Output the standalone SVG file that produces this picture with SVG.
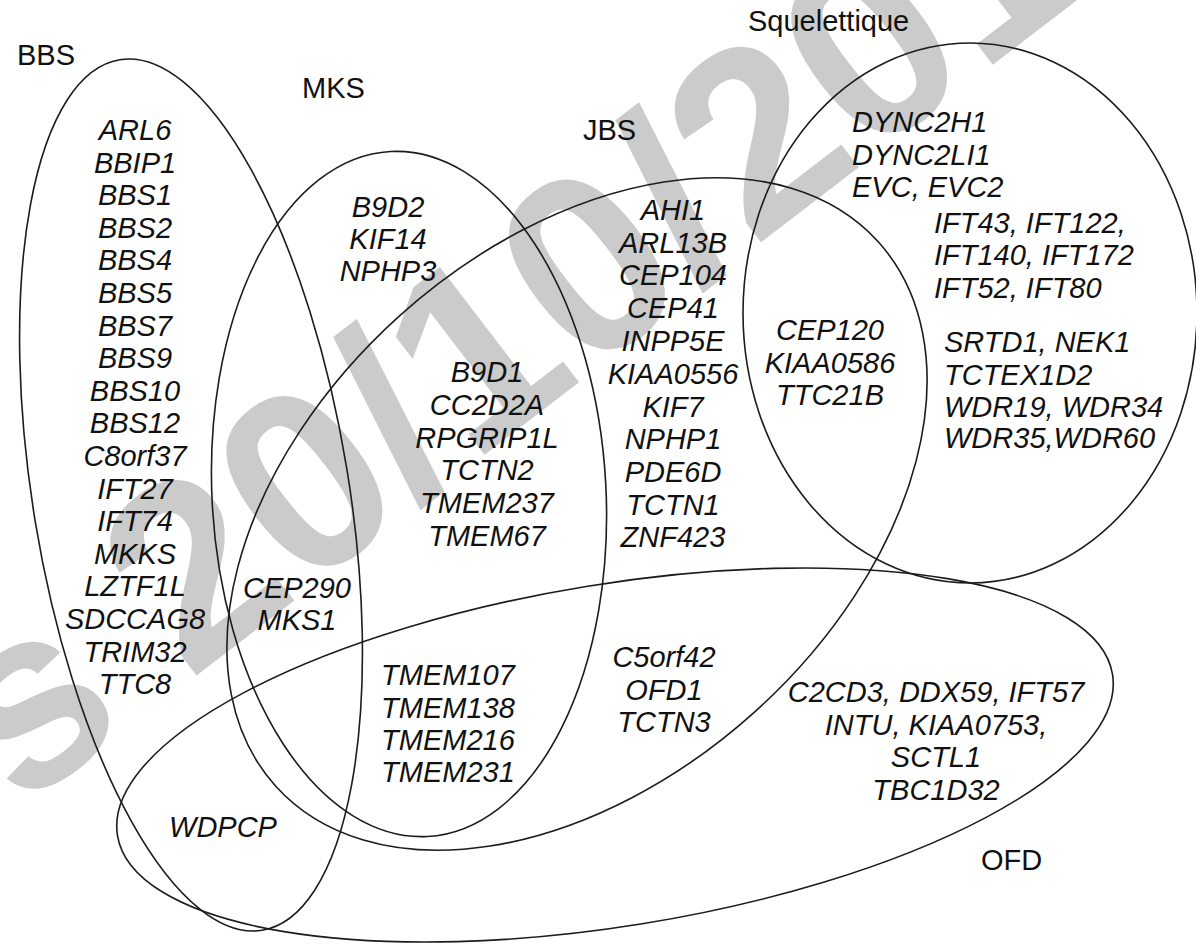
<svg xmlns="http://www.w3.org/2000/svg" width="1196" height="947" viewBox="0 0 1196 947">
<style>
.set{fill:none;stroke:#1c1c1c;stroke-width:1.6}
.lbl{font-family:"Liberation Sans",Arial,sans-serif;font-size:29px;fill:#111}
.gene{font-family:"Liberation Sans",Arial,sans-serif;font-size:29px;font-style:italic;fill:#111}
.c{text-anchor:middle}
.wm{font-family:"Liberation Sans",Arial,sans-serif;font-weight:bold;font-size:256px;fill:#cbcbcb}
</style>
<rect width="1196" height="947" fill="#ffffff"/>
<g id="watermark">
<text class="wm" transform="translate(20 811) rotate(-37.5)">s 20/10/2017</text>
</g>
<g id="connectors"></g>
<g id="set-bbs">
<ellipse class="set" cx="191" cy="495" rx="158" ry="441" transform="rotate(-9.3 191 495)"/>
<text class="lbl" x="17" y="65">BBS</text>
</g>
<g id="set-mks">
<ellipse class="set" cx="409" cy="494" rx="197" ry="343" transform="rotate(-3.1 409 494)"/>
<text class="lbl" x="302" y="98">MKS</text>
</g>
<g id="set-jbs">
<ellipse class="set" cx="577" cy="514" rx="406" ry="266" transform="rotate(-42.1 577 514)"/>
<text class="lbl" x="583" y="140">JBS</text>
</g>
<g id="set-squelettique">
<ellipse class="set" cx="970" cy="313" rx="227" ry="270"/>
<text class="lbl" x="748" y="31">Squelettique</text>
</g>
<g id="set-ofd">
<ellipse class="set" cx="615" cy="755" rx="504" ry="171" transform="rotate(-9.2 615 755)"/>
<text class="lbl" x="981" y="870">OFD</text>
</g>
<g id="genes-bbs" class="gene c">
<text x="135" y="140">ARL6</text>
<text x="135" y="172.6">BBIP1</text>
<text x="135" y="205.2">BBS1</text>
<text x="135" y="237.8">BBS2</text>
<text x="135" y="270.4">BBS4</text>
<text x="135" y="303">BBS5</text>
<text x="135" y="335.6">BBS7</text>
<text x="135" y="368.2">BBS9</text>
<text x="135" y="400.8">BBS10</text>
<text x="135" y="433.4">BBS12</text>
<text x="135" y="466">C8orf37</text>
<text x="135" y="498.6">IFT27</text>
<text x="135" y="531.2">IFT74</text>
<text x="135" y="563.8">MKKS</text>
<text x="135" y="596.4">LZTF1L</text>
<text x="135" y="629">SDCCAG8</text>
<text x="135" y="661.6">TRIM32</text>
<text x="135" y="694.2">TTC8</text>
</g>
<g id="genes-mks" class="gene c">
<text x="388" y="217">B9D2</text>
<text x="388" y="249">KIF14</text>
<text x="388" y="281">NPHP3</text>
</g>
<g id="genes-mks-jbs" class="gene c">
<text x="487" y="382">B9D1</text>
<text x="487" y="415">CC2D2A</text>
<text x="487" y="448">RPGRIP1L</text>
<text x="487" y="480">TCTN2</text>
<text x="487" y="513">TMEM237</text>
<text x="487" y="546">TMEM67</text>
</g>
<g id="genes-jbs" class="gene c">
<text x="673" y="220">AHI1</text>
<text x="673" y="253">ARL13B</text>
<text x="673" y="285">CEP104</text>
<text x="673" y="318">CEP41</text>
<text x="673" y="351">INPP5E</text>
<text x="673" y="384">KIAA0556</text>
<text x="673" y="417">KIF7</text>
<text x="673" y="449">NPHP1</text>
<text x="673" y="482">PDE6D</text>
<text x="673" y="515">TCTN1</text>
<text x="673" y="547">ZNF423</text>
</g>
<g id="genes-jbs-squelettique" class="gene c">
<text x="830" y="340">CEP120</text>
<text x="830" y="373">KIAA0586</text>
<text x="830" y="405">TTC21B</text>
</g>
<g id="genes-squelettique" class="gene">
<text x="852" y="132">DYNC2H1</text>
<text x="852" y="165">DYNC2LI1</text>
<text x="852" y="197">EVC, EVC2</text>
<text x="934" y="233">IFT43, IFT122,</text>
<text x="934" y="265">IFT140, IFT172</text>
<text x="934" y="298">IFT52, IFT80</text>
<text x="944" y="352">SRTD1, NEK1</text>
<text x="944" y="385">TCTEX1D2</text>
<text x="944" y="417">WDR19, WDR34</text>
<text x="944" y="448">WDR35,WDR60</text>
</g>
<g id="genes-bbs-mks" class="gene c">
<text x="297" y="598">CEP290</text>
<text x="297" y="630">MKS1</text>
</g>
<g id="genes-mks-ofd" class="gene c">
<text x="448" y="685">TMEM107</text>
<text x="448" y="718">TMEM138</text>
<text x="448" y="750">TMEM216</text>
<text x="448" y="782">TMEM231</text>
</g>
<g id="genes-jbs-ofd" class="gene c">
<text x="664" y="667">C5orf42</text>
<text x="664" y="700">OFD1</text>
<text x="664" y="732">TCTN3</text>
</g>
<g id="genes-ofd" class="gene c">
<text x="936" y="702">C2CD3, DDX59, IFT57</text>
<text x="936" y="735">INTU, KIAA0753,</text>
<text x="936" y="767">SCTL1</text>
<text x="936" y="800">TBC1D32</text>
</g>
<g id="genes-bbs-ofd" class="gene c">
<text x="223" y="837">WDPCP</text>
</g>
</svg>
